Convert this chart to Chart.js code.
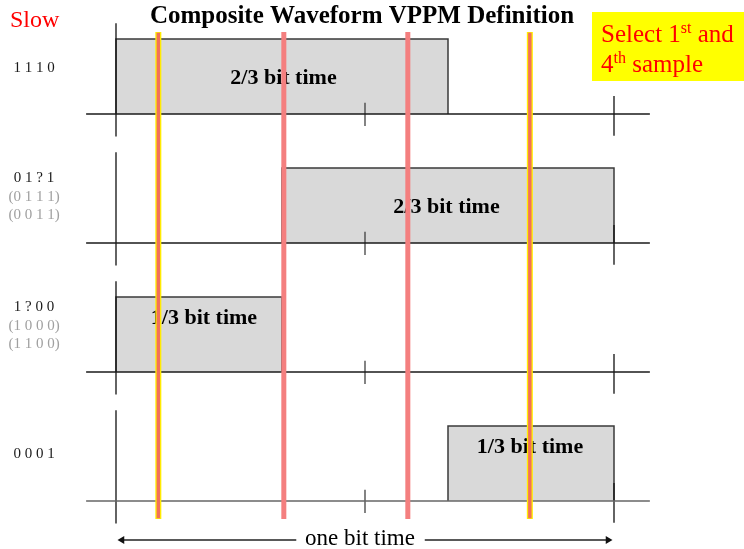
<!DOCTYPE html>
<html>
<head>
<meta charset="utf-8">
<script src="https://cdn.jsdelivr.net/npm/chart.js@4.4.1/dist/chart.umd.min.js"></script>
<style>
  html, body { margin: 0; padding: 0; background: #ffffff; }
  #wrap { width: 744px; height: 549px; position: relative; }
</style>
</head>
<body>
<div id="wrap"><canvas id="c" width="744" height="549"></canvas></div>
<script>
// ---------------- data ----------------
const rowCodes = ['1 1 1 0', '0 1 ? 1', '1 ? 0 0', '0 0 0 1'];
const rowAlternatives = [[], ['(0 1 1 1)', '(0 0 1 1)'], ['(1 0 0 0)', '(1 1 0 0)'], []];
const pulseStart = [0, 1/3, 0, 2/3];          // bit-time units
const pulseEnd   = [2/3, 1, 1/3, 1];
const pulseLabels = ['2/3 bit time', '2/3 bit time', '1/3 bit time', '1/3 bit time'];
const sampleTimes = [0.085, 0.337, 0.586, 0.831]; // sampling instants within one bit
const sampleSelected = [true, false, false, true];
const tickTimes = [0, 0.5, 1];
const titleText = 'Composite Waveform VPPM Definition';
const axisLabel = 'one bit time';

// ---------------- layout constants ----------------
const ROW_GAP = 1.72;                 // vertical distance between rows (in pulse heights)
const baseOf = r => -r * ROW_GAP;
const X_MIN = -116 / 498, X_MAX = (744 - 116) / 498;
const Y_MIN = (114 - 549) / 75, Y_MAX = 114 / 75;
const SERIF = '"Liberation Serif", "DejaVu Serif", serif';

const datasets = [];

// pulses (filled rectangles)
pulseStart.forEach((s, r) => {
  const b = baseOf(r), e = pulseEnd[r];
  datasets.push({
    kind: 'pulse', row: r,
    data: [{x: s, y: b}, {x: s, y: b + 1}, {x: e, y: b + 1}, {x: e, y: b}],
    borderColor: '#3a3a3a', borderWidth: 1.5,
    backgroundColor: '#d9d9d9',
    fill: {value: b},
    pointRadius: 0, tension: 0, order: 5
  });
});

// baselines, row start lines and ticks
rowCodes.forEach((_, r) => {
  const b = baseOf(r);
  datasets.push({
    data: [{x: -0.06, y: b}, {x: 1.072, y: b}],
    borderColor: r === 3 ? '#666666' : '#1a1a1a', borderWidth: 1.5,
    pointRadius: 0, order: 4
  });
  datasets.push({
    data: [{x: tickTimes[0], y: b + 1.21}, {x: tickTimes[0], y: b - 0.3}],
    borderColor: '#111111', borderWidth: 1.3, pointRadius: 0, order: 4
  });
  datasets.push({
    data: [{x: tickTimes[1], y: b + 0.15}, {x: tickTimes[1], y: b - 0.16}],
    borderColor: '#333333', borderWidth: 1.2, pointRadius: 0, order: 4
  });
  datasets.push({
    data: [{x: tickTimes[2], y: b + 0.24}, {x: tickTimes[2], y: b - 0.29}],
    borderColor: '#111111', borderWidth: 1.3, pointRadius: 0, order: 4
  });
});

// sampling instants
const sTop = 1.093, sBot = -5.4;
sampleTimes.forEach((t, i) => {
  if (sampleSelected[i]) {
    datasets.push({
      data: [{x: t, y: sTop}, {x: t, y: sBot}],
      borderColor: '#ffee00', borderWidth: 6, pointRadius: 0, order: 1
    });
    datasets.push({
      data: [{x: t, y: sTop - 0.01}, {x: t, y: sBot + 0.01}],
      borderColor: '#f0705a', borderWidth: 3.4, pointRadius: 0, order: 0
    });
  } else {
    datasets.push({
      data: [{x: t, y: sTop}, {x: t, y: sBot}],
      borderColor: '#f47f7f', borderWidth: 5, pointRadius: 0, order: 0
    });
  }
});

// "one bit time" arrow
const arrowY = -5.68;
datasets.push({
  data: [{x: 0.012, y: arrowY}, {x: 0.362, y: arrowY}],
  borderColor: '#222222', borderWidth: 1.3,
  pointStyle: 'triangle', pointRadius: [4.5, 0], rotation: [-90, 0],
  pointBackgroundColor: '#111111', pointBorderColor: '#111111', pointBorderWidth: 0,
  order: 4
});
datasets.push({
  data: [{x: 0.62, y: arrowY}, {x: 0.988, y: arrowY}],
  borderColor: '#222222', borderWidth: 1.3,
  pointStyle: 'triangle', pointRadius: [0, 4.5], rotation: [0, 90],
  pointBackgroundColor: '#111111', pointBorderColor: '#111111', pointBorderWidth: 0,
  order: 4
});

// ---------------- text plugin ----------------
const labelLevel = [0.4, 0.4, 0.64, 0.64];
const labelShift = [0.003, -0.003, 0.01, -0.002];

const textPlugin = {
  id: 'texts',
  afterDatasetDraw(chart, args) {
    const ds = chart.data.datasets[args.index];
    if (ds.kind !== 'pulse') return;
    const r = ds.row, ctx = chart.ctx, xs = chart.scales.x, ys = chart.scales.y;
    ctx.save();
    ctx.fillStyle = '#000000';
    ctx.font = 'bold 22px ' + SERIF;
    ctx.textAlign = 'center';
    ctx.textBaseline = 'alphabetic';
    const cx = xs.getPixelForValue((pulseStart[r] + pulseEnd[r]) / 2 + labelShift[r]);
    const cy = ys.getPixelForValue(baseOf(r) + labelLevel[r]);
    ctx.fillText(pulseLabels[r], cx, cy);
    ctx.restore();
  },
  afterDraw(chart) {
    const ctx = chart.ctx, xs = chart.scales.x, ys = chart.scales.y;
    ctx.save();
    ctx.textBaseline = 'alphabetic';
    // title
    ctx.fillStyle = '#000000';
    ctx.font = 'bold 25px ' + SERIF;
    ctx.textAlign = 'center';
    ctx.fillText(titleText, 362, 23);
    // Slow
    ctx.fillStyle = '#ff0000';
    ctx.font = '24px ' + SERIF;
    ctx.textAlign = 'left';
    ctx.fillText('Slow', 10, 27);
    // row codes
    const codeBase = [72, 182, 311, 458];
    rowCodes.forEach((code, r) => {
      ctx.textAlign = 'center';
      ctx.font = '15px ' + SERIF;
      ctx.fillStyle = '#1a1a1a';
      ctx.fillText(code, 34, codeBase[r]);
      ctx.fillStyle = '#a0a0a0';
      rowAlternatives[r].forEach((alt, k) => {
        ctx.fillText(alt, 34, codeBase[r] + 18.5 * (k + 1));
      });
    });
    // yellow note
    ctx.fillStyle = '#ffff00';
    ctx.fillRect(592, 12, 152, 69);
    ctx.fillStyle = '#ff0000';
    ctx.textAlign = 'left';
    const big = '25px ' + SERIF, small = '16px ' + SERIF;
    let x = 601;
    ctx.font = big; ctx.fillText('Select 1', x, 42); x += ctx.measureText('Select 1').width;
    ctx.font = small; ctx.fillText('st', x, 33); x += ctx.measureText('st').width;
    ctx.font = big; ctx.fillText(' and', x, 42);
    x = 601;
    ctx.font = big; ctx.fillText('4', x, 72); x += ctx.measureText('4').width;
    ctx.font = small; ctx.fillText('th', x, 63); x += ctx.measureText('th').width;
    ctx.font = big; ctx.fillText(' sample', x, 72);
    // axis label
    ctx.fillStyle = '#000000';
    ctx.font = '23px ' + SERIF;
    ctx.textAlign = 'center';
    ctx.fillText(axisLabel, xs.getPixelForValue(0.49), ys.getPixelForValue(arrowY) + 5);
    ctx.restore();
  }
};

new Chart(document.getElementById('c'), {
  type: 'line',
  data: { datasets },
  options: {
    responsive: false,
    animation: false,
    layout: { padding: 0, autoPadding: false },
    scales: {
      x: { type: 'linear', min: X_MIN, max: X_MAX, display: false },
      y: { type: 'linear', min: Y_MIN, max: Y_MAX, display: false }
    },
    plugins: { legend: { display: false }, tooltip: { enabled: false }, title: { display: false } },
    elements: { line: { borderCapStyle: 'butt' } }
  },
  plugins: [textPlugin]
});
</script>
</body>
</html>
